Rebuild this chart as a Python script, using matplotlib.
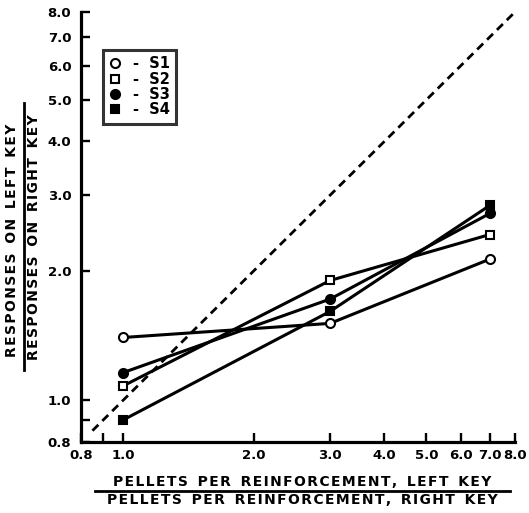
import numpy as np
import matplotlib
matplotlib.use("Agg")
import matplotlib.pyplot as plt
from matplotlib.lines import Line2D

# pellet ratio (left / right) and response ratios per subject
pellet_ratio = [1.0, 3.0, 7.0]
s1 = [1.40, 1.51, 2.13]
s2 = [1.08, 1.90, 2.43]
s3 = [1.16, 1.72, 2.72]
s4 = [0.90, 1.61, 2.84]
subjects = ["S1", "S2", "S3", "S4"]

tick_vals = [0.8, 1.0, 2.0, 3.0, 4.0, 5.0, 6.0, 7.0, 8.0]
tick_labels = ["0.8", "1.0", "2.0", "3.0", "4.0", "5.0", "6.0", "7.0", "8.0"]
minor_ticks = [0.9]
diag = [0.85, 8.0]

plt.rcParams["font.family"] = "DejaVu Sans"
plt.rcParams["font.weight"] = "bold"


def spaced(s):
    # wide letter spacing like the typed original
    words = s.split(" ")
    return "  ".join("\u200a".join(w) for w in words)


fig = plt.figure(figsize=(5.29, 5.13), dpi=100)
ax = fig.add_axes([81 / 529, 1 - 442 / 513, 434 / 529, 430 / 513])

ax.plot(diag, diag, color="black", lw=2, dashes=(3, 2))

styles = [
    dict(marker="o", mfc="white", ms=6.5),
    dict(marker="s", mfc="white", ms=5.2),
    dict(marker="o", mfc="black", ms=6.5),
    dict(marker="s", mfc="black", ms=5.8),
]
for ys, st in zip([s1, s2, s3, s4], styles):
    ax.plot(pellet_ratio, ys, color="black", lw=2.2, mec="black", mew=1.5,
            clip_on=False, zorder=3, **st)

ax.set_xscale("log")
ax.set_yscale("log")
ax.set_xlim(0.8, 8.0)
ax.set_ylim(0.8, 8.0)
ax.minorticks_off()
ax.set_xticks(tick_vals + minor_ticks)
ax.set_xticklabels(tick_labels + [""])
ax.set_yticks(tick_vals + minor_ticks)
ax.set_yticklabels(tick_labels + [""])
ax.tick_params(direction="in", length=6.5, width=1.7, labelsize=9.5)
ax.tick_params(axis="x", pad=5)
ax.tick_params(axis="y", pad=7)
for lab in ax.get_xticklabels() + ax.get_yticklabels():
    lab.set_fontweight("bold")
for side in ["top", "right"]:
    ax.spines[side].set_visible(False)
for side in ["left", "bottom"]:
    ax.spines[side].set_linewidth(2.3)

handles = [Line2D([], [], ls="none", color="black", mec="black", mew=1.5, **st)
           for st in styles]
leg = ax.legend(handles, ["-  " + s for s in subjects], loc="upper left",
                bbox_to_anchor=(0.05, 0.912), borderaxespad=0, fancybox=False,
                handlelength=0.8, handletextpad=0.8, labelspacing=0.02,
                borderpad=0.45, prop=dict(size=10.5, weight="bold"))
leg.get_frame().set_edgecolor("black")
leg.get_frame().set_linewidth(2.2)

# fraction-style axis labels
fig.text(0.571, 1 - 482 / 513, spaced("PELLETS PER REINFORCEMENT, LEFT KEY"),
         ha="center", va="center", fontsize=10, fontweight="bold")
fig.text(0.571, 1 - 500 / 513, spaced("PELLETS PER REINFORCEMENT, RIGHT KEY"),
         ha="center", va="center", fontsize=10, fontweight="bold")
fig.add_artist(Line2D([95 / 529, 510 / 529], [1 - 491 / 513] * 2,
                      color="black", lw=2, transform=fig.transFigure))

fig.text(12 / 529, 1 - 240 / 513, spaced("RESPONSES ON LEFT KEY"), rotation=90,
         ha="center", va="center", fontsize=10, fontweight="bold")
fig.text(34 / 529, 1 - 237 / 513, spaced("RESPONSES ON RIGHT KEY"), rotation=90,
         ha="center", va="center", fontsize=10, fontweight="bold")
fig.add_artist(Line2D([24 / 529] * 2, [1 - 103 / 513, 1 - 370 / 513],
                      color="black", lw=2, transform=fig.transFigure))

fig.savefig("out.png", dpi=100)
